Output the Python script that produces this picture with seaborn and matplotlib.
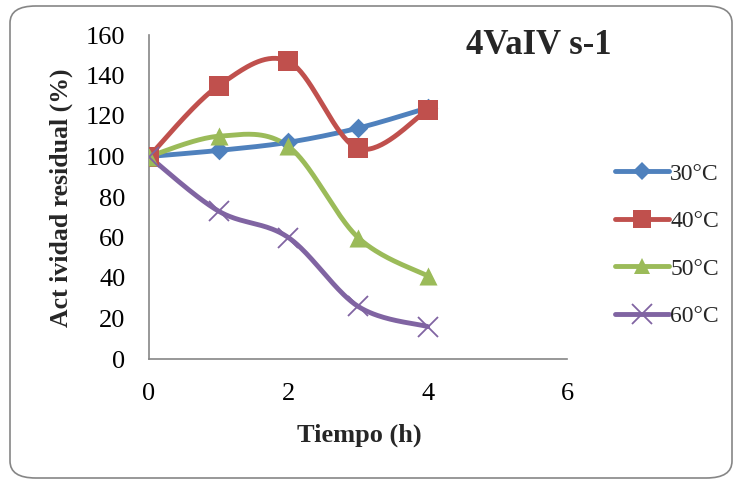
import numpy as np
import pandas as pd
import seaborn as sns
import matplotlib.pyplot as plt
from matplotlib.patches import FancyBboxPatch
from matplotlib.lines import Line2D

# Data
tiempo = [0, 1, 2, 3, 4]
act_30 = [100, 103, 107, 114, 124]
act_40 = [100, 135, 147, 104, 123]
act_50 = [100, 110, 105, 60, 41]
act_60 = [100, 73, 60, 26, 16]
series_labels = ["30°C", "40°C", "50°C", "60°C"]
x_ticks = [0, 2, 4, 6]
y_ticks = [0, 20, 40, 60, 80, 100, 120, 140, 160]

colors = ["#4F81BD", "#C0504D", "#9BBB59", "#8064A2"]
markers = ["D", "s", "^", "x"]
msizes = [10, 14, 13, 14]

sns.set_theme(style="white")
plt.rcParams["font.family"] = ["Liberation Serif", "DejaVu Serif"]


def smooth_curve(xs, ys, n=40):
    """Cardinal Bezier smoothing between consecutive points."""
    xs = np.asarray(xs, float)
    ys = np.asarray(ys, float)
    px = np.concatenate([[xs[0]], xs, [xs[-1]]])
    py = np.concatenate([[ys[0]], ys, [ys[-1]]])
    out_x, out_y = [], []
    t = np.linspace(0, 1, n)
    for i in range(1, len(px) - 2):
        p0 = np.array([px[i], py[i]])
        p3 = np.array([px[i + 1], py[i + 1]])
        c1 = p0 + (np.array([px[i + 1], py[i + 1]]) - np.array([px[i - 1], py[i - 1]])) / 6
        c2 = p3 - (np.array([px[i + 2], py[i + 2]]) - np.array([px[i], py[i]])) / 6
        b = ((1 - t) ** 3)[:, None] * p0 + (3 * (1 - t) ** 2 * t)[:, None] * c1 \
            + (3 * (1 - t) * t ** 2)[:, None] * c2 + (t ** 3)[:, None] * p3
        out_x.extend(b[:, 0])
        out_y.extend(b[:, 1])
    return np.array(out_x), np.array(out_y)


W, H = 735, 482
fig = plt.figure(figsize=(W / 100, H / 100), dpi=100)
ax = fig.add_axes([149 / W, 1 - 359 / H, (567 - 149) / W, (359 - 35) / H])

all_series = [act_30, act_40, act_50, act_60]
handles = []
for vals, lab, c, m, ms in zip(all_series, series_labels, colors, markers, msizes):
    sx, sy = smooth_curve(tiempo, vals)
    curve = pd.DataFrame({"x": sx, "y": sy})
    sns.lineplot(data=curve, x="x", y="y", sort=False, ax=ax, color=c,
                 linewidth=3.5, solid_capstyle="round", legend=False)
    pts = pd.DataFrame({"x": tiempo, "y": vals})
    if m == "x":
        ax.plot(pts["x"], pts["y"], linestyle="none", marker="x", markersize=ms,
                markeredgewidth=1.3, color=c, zorder=5)
    else:
        sns.scatterplot(data=pts, x="x", y="y", ax=ax, marker=m, s=ms ** 2,
                        color=c, edgecolor=c, linewidth=0, zorder=5, legend=False)
    handles.append(Line2D([0], [0], color=c, linewidth=3.5, marker=m,
                          markersize=ms * (0.9 if m != "x" else 1.0),
                          markeredgewidth=1.3 if m == "x" else 0,
                          markerfacecolor=c, markeredgecolor=c,
                          solid_capstyle="round"))

ax.set_xlim(0, 6)
ax.set_ylim(0, 160)
ax.set_xticks(x_ticks)
ax.set_yticks(y_ticks)
ax.tick_params(axis="both", labelsize=19, colors="black", length=6, width=1,
               direction="out", color="#868686")
ax.tick_params(axis="x", pad=11)
ax.tick_params(axis="y", pad=11)
for s in ["top", "right"]:
    ax.spines[s].set_visible(False)
for s in ["left", "bottom"]:
    ax.spines[s].set_color("#868686")
    ax.spines[s].set_linewidth(1.2)
ax.set_xlabel("Tiempo (h)", fontsize=19, fontweight="bold")
ax.set_ylabel("Act ividad residual (%)", fontsize=18.5, fontweight="bold")
ax.xaxis.set_label_coords(359 / W, 1 - 435 / H, transform=fig.transFigure)
ax.yaxis.set_label_coords(61 / W, 1 - 198 / H, transform=fig.transFigure)
ax.xaxis.label.set_va("center")
ax.yaxis.label.set_va("center")

fig.text(539 / W, 1 - 45 / H, "4VaIV s-1", fontsize=25, fontweight="bold",
         ha="center", va="center")

fig.legend(handles, series_labels, loc="center left",
           bbox_to_anchor=(603 / W, 1 - 245 / H), frameon=False,
           fontsize=17, handlelength=2.3, handletextpad=0.05, labelspacing=1.1,
           borderpad=0)

border = FancyBboxPatch((10 / W, 4 / H), 722 / W, 472 / H,
                        boxstyle="round,pad=0,rounding_size=0.035",
                        transform=fig.transFigure, facecolor="none",
                        edgecolor="#868686", linewidth=1.2)
fig.patches.append(border)

fig.savefig("out.png", dpi=100)
